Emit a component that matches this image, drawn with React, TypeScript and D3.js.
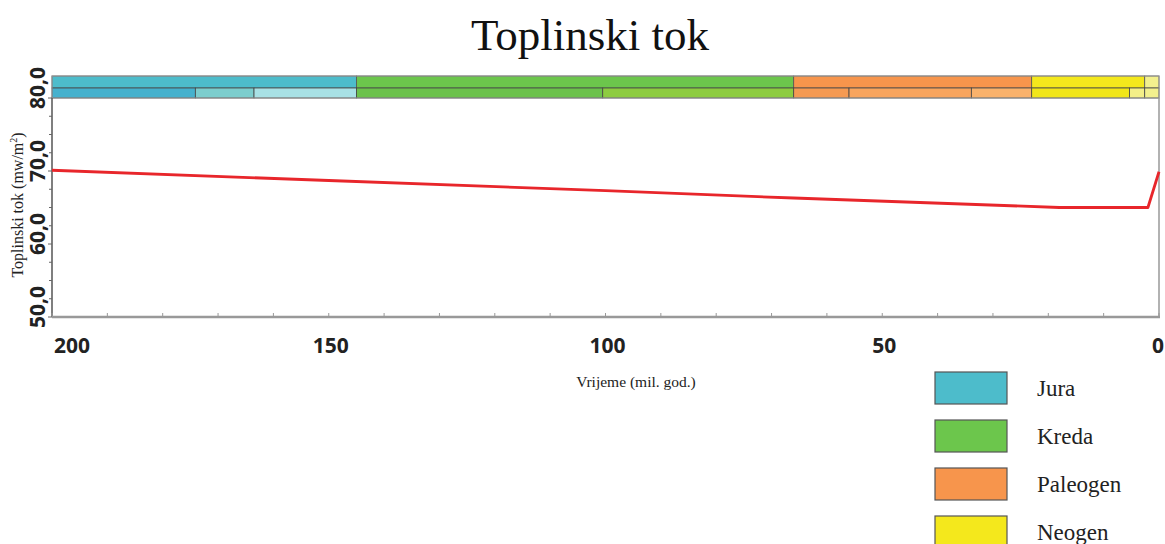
import * as React from 'react'
import * as d3 from 'd3'

// geological time scale (Ma)
const periodNames = ['Jura', 'Kreda', 'Paleogen', 'Neogen', 'Kvartar']
const periodBounds = [201, 145, 66, 23, 2.58, 0]
const periodColors = ['#4dbccb', '#6cc64c', '#f7954c', '#f4e81c', '#f3f08e']

const epochBounds = [201, 174.1, 163.5, 145, 100.5, 66, 56, 33.9, 23, 5.333, 2.58, 0]
const epochColors = [
  '#46b1cd', '#7ccdcd', '#a8e1e5',
  '#6cc24c', '#8dcc40',
  '#f59a52', '#f8a55e', '#f9b26c',
  '#f1e619', '#f4ef88',
  '#f3f08e',
]

// heat flow curve
const heatAges = [200, 150, 100, 66, 18, 2, 0]
const heatFlow = [70.1, 68.7, 67.3, 66.3, 65.0, 65.0, 69.9]

const xTicks = [200, 150, 100, 50, 0]
const yTicks = [50, 60, 70, 80]

const legendNames = ['Jura', 'Kreda', 'Paleogen', 'Neogen']

const W = 1165
const H = 544
const left = 52
const right = 1159
const top = 98
const bottom = 317

export default function App() {
  const x = d3.scaleLinear().domain([200, 0]).range([left, right])
  const y = d3.scaleLinear().domain([50, 80]).range([bottom, top])
  const xc = (v: number) => x(Math.min(v, 200))

  const line = d3
    .line<number>()
    .x((d, i) => x(heatAges[i]))
    .y((d) => y(d))

  const bandTop = 76
  const bandMid = 88
  const bandBot = top

  const minorX = d3.range(0, 201, 10)
  const minorY = d3.range(50, 80.1, 2.5)

  const sans = '"Open Sans", sans-serif'
  const serif = '"Liberation Serif", "Times New Roman", serif'

  return (
    <svg width={W} height={H} style={{ position: 'absolute', left: 0, top: 0, background: '#fff' }}>
      <text x={590} y={50} textAnchor="middle" fontFamily={serif} fontSize={45} fill="#111">
        Toplinski tok
      </text>

      {/* period row */}
      {periodNames.map((p, i) => (
        <rect
          key={p}
          x={xc(periodBounds[i])}
          y={bandTop}
          width={xc(periodBounds[i + 1]) - xc(periodBounds[i])}
          height={bandMid - bandTop}
          fill={periodColors[i]}
          stroke="#555"
          strokeWidth={0.8}
        />
      ))}
      {/* epoch row */}
      {epochColors.map((c, i) => (
        <rect
          key={i}
          x={xc(epochBounds[i])}
          y={bandMid}
          width={xc(epochBounds[i + 1]) - xc(epochBounds[i])}
          height={bandBot - bandMid}
          fill={c}
          stroke="#444"
          strokeWidth={0.8}
        />
      ))}
      <rect x={left} y={bandTop} width={right - left} height={bandBot - bandTop} fill="none" stroke="#999" strokeWidth={1} />

      {/* axes */}
      <line x1={right} x2={right} y1={bandBot} y2={bottom} stroke="#999" strokeWidth={1.5} />
      <line x1={left} x2={left} y1={bandBot} y2={bottom} stroke="#555" strokeWidth={1.5} />
      <line x1={left} x2={right + 1} y1={bottom} y2={bottom} stroke="#999" strokeWidth={2.5} />

      {minorX.map((d) => (
        <line key={'mx' + d} x1={x(d)} x2={x(d)} y1={bottom} y2={bottom - 4} stroke="#999" strokeWidth={1} />
      ))}
      {minorY.map((d) => (
        <line key={'my' + d} x1={left} x2={left - (d % 10 === 0 ? 4 : 3)} y1={y(d)} y2={y(d)} stroke="#666" strokeWidth={1} />
      ))}

      {xTicks.map((d, i) => {
        const last = i === xTicks.length - 1
        return (
          <text
            key={'xt' + d}
            x={i === 0 ? x(d) + 2 : last ? W - 1 : x(d) + 2}
            y={353}
            textAnchor={i === 0 ? 'start' : last ? 'end' : 'middle'}
            fontFamily={sans}
            fontWeight={700}
            fontSize={21}
            fill="#222"
          >
            {d}
          </text>
        )
      })}
      {yTicks.map((d) => (
        <text
          key={'yt' + d}
          transform={`translate(45,${y(d) - 10}) rotate(-90)`}
          textAnchor="middle"
          fontFamily={sans}
          fontWeight={700}
          fontSize={21}
          fill="#222"
        >
          {d.toFixed(1).replace('.', ',')}
        </text>
      ))}

      <text transform="translate(23,205) rotate(-90)" textAnchor="middle" fontFamily={serif} fontSize={16} fill="#222">
        Toplinski tok (mw/m<tspan dy={-6} fontSize={10}>2</tspan>
        <tspan dy={6}>)</tspan>
      </text>
      <text x={636} y={387} textAnchor="middle" fontFamily={serif} fontSize={15.5} fill="#222">
        Vrijeme (mil. god.)
      </text>

      <path d={line(heatFlow) || ''} fill="none" stroke="#e8262b" strokeWidth={2.8} strokeLinejoin="round" />

      {/* legend */}
      {legendNames.map((n, i) => (
        <g key={n} transform={`translate(935,${372 + i * 48})`}>
          <rect width={72} height={32} fill={periodColors[i]} stroke="#555" strokeWidth={1.2} />
          <text x={102} y={24} fontFamily={serif} fontSize={23} fill="#222">
            {n}
          </text>
        </g>
      ))}
    </svg>
  )
}
